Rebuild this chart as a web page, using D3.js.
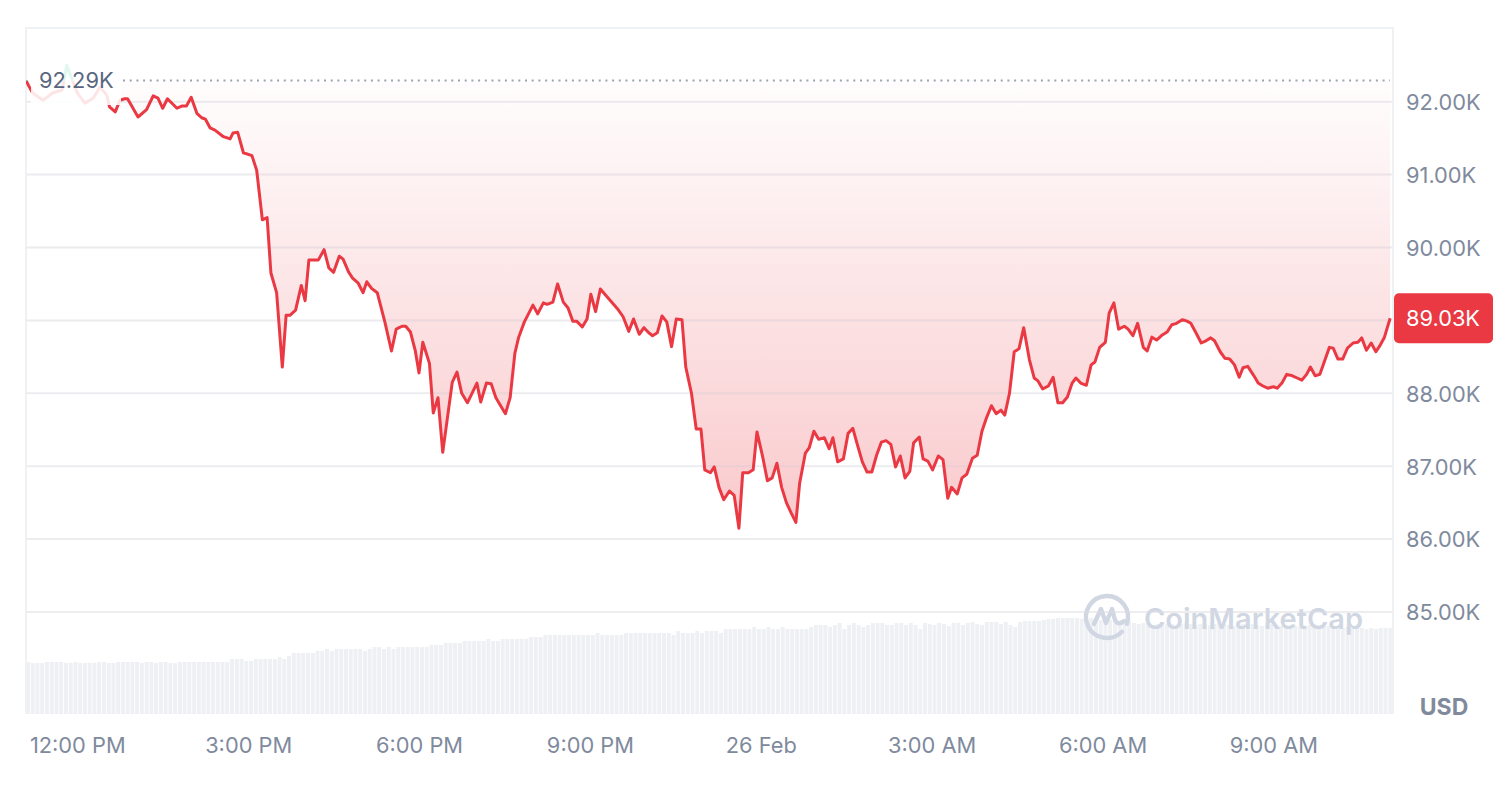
<!DOCTYPE html>
<html><head><meta charset="utf-8">
<script src="https://cdn.jsdelivr.net/npm/d3@7/dist/d3.min.js"></script>
<style>
html,body{margin:0;padding:0;background:#fff;}
svg{display:block;font-family:Inter,"Noto Sans",sans-serif;}
</style></head>
<body><svg id="chart" width="1511" height="796"></svg>
<script>
// ---------- DATA ----------
const startTime = new Date(2025, 1, 25, 11, 6);   // first sample
const spanMinutes = 1440;
const baselinePrice = 92.29;   // K USD (open of period)
const lastPrice = 89.03;

// minutes after start
const minutes = [
  0,4,7,18,28,38,43,54,62,71,
  78,85,88,94,99,104,107,118,127,134,
  139,144,149,159,164,169,174,180,185,189,
  194,199,208,215,218,223,229,238,243,249,
  254,258,264,270,274,278,284,290,294,298,
  308,314,319,324,330,334,340,344,350,355,
  359,364,370,378,385,390,396,400,405,410,
  414,418,425,429,434,439,449,454,459,465,
  475,479,485,490,495,505,510,515,519,525,
  534,539,545,549,555,560,566,571,576,580,
  586,591,595,600,605,615,623,629,635,640,
  646,651,656,660,665,670,675,680,685,691,
  695,701,706,711,715,721,725,730,735,741,
  746,751,755,761,766,770,776,781,786,791,
  796,801,806,811,815,821,825,830,835,841,
  846,850,855,861,866,871,875,881,886,891,
  896,901,906,911,916,921,926,931,935,941,
  945,950,955,961,966,971,975,981,986,991,
  997,1002,1007,1012,1017,1022,1027,1031,1036,1041,
  1046,1051,1057,1062,1066,1071,1077,1082,1087,1092,
  1097,1102,1106,1111,1117,1122,1126,1131,1137,1141,
  1146,1151,1157,1161,1166,1171,1177,1181,1186,1191,
  1197,1202,1207,1212,1218,1223,1227,1232,1238,1243,
  1248,1252,1258,1263,1268,1273,1278,1282,1287,1293,
  1298,1303,1308,1314,1318,1323,1328,1334,1339,1344,
  1349,1353,1358,1363,1367,1373,1377,1382,1387,1392,
  1398,1403,1407,1412,1417,1422,1426,1431,1437
];
// price in thousands USD
const prices = [
  92.29,92.19,92.12,92.02,92.12,92.16,92.50,92.12,91.98,92.05,
  92.20,92.09,91.93,91.86,92.02,92.04,92.04,91.79,91.89,92.08,
  92.05,91.91,92.04,91.91,91.94,91.94,92.06,91.84,91.78,91.76,
  91.64,91.61,91.52,91.49,91.57,91.58,91.30,91.26,91.06,90.38,
  90.41,89.65,89.38,88.36,89.07,89.07,89.14,89.48,89.27,89.83,
  89.83,89.97,89.72,89.66,89.88,89.84,89.66,89.58,89.51,89.38,
  89.53,89.44,89.38,88.98,88.58,88.88,88.92,88.92,88.84,88.59,
  88.28,88.70,88.41,87.73,87.94,87.19,88.15,88.29,88.00,87.87,
  88.14,87.88,88.14,88.13,87.94,87.72,87.94,88.55,88.77,88.98,
  89.21,89.09,89.24,89.22,89.25,89.50,89.25,89.17,88.99,88.99,
  88.91,89.02,89.36,89.12,89.43,89.28,89.16,89.05,88.85,89.02,
  88.81,88.90,88.83,88.79,88.83,89.06,88.98,88.64,89.02,89.01,
  88.36,88.00,87.51,87.51,86.95,86.91,86.99,86.71,86.54,86.66,
  86.60,86.15,86.91,86.91,86.95,87.47,87.13,86.80,86.84,87.04,
  86.71,86.50,86.36,86.23,86.77,87.18,87.25,87.48,87.37,87.39,
  87.24,87.39,87.06,87.10,87.45,87.52,87.33,87.06,86.92,86.92,
  87.15,87.33,87.35,87.30,86.99,87.14,86.84,86.93,87.32,87.40,
  87.10,87.07,86.95,87.14,87.09,86.56,86.71,86.62,86.84,86.89,
  87.11,87.15,87.48,87.67,87.83,87.72,87.77,87.70,88.00,88.57,
  88.61,88.90,88.46,88.21,88.17,88.06,88.10,88.22,87.87,87.87,
  87.95,88.14,88.21,88.14,88.11,88.39,88.43,88.63,88.70,89.10,
  89.24,88.88,88.92,88.88,88.79,88.96,88.63,88.58,88.77,88.73,
  88.80,88.84,88.94,88.96,89.01,88.99,88.96,88.84,88.69,88.72,
  88.76,88.72,88.57,88.48,88.47,88.39,88.22,88.35,88.37,88.25,
  88.14,88.10,88.07,88.09,88.07,88.14,88.26,88.24,88.21,88.18,
  88.26,88.36,88.24,88.26,88.41,88.63,88.62,88.47,88.47,88.62,
  88.69,88.70,88.76,88.59,88.69,88.57,88.65,88.77,89.03
];
// volume bars, one per 5 minutes (relative units)
const volumes = [
  52,51,51,51,52,52,52,52,51,51, 52,51,51,51,51,52,52,51,51,52,
  52,52,52,52,51,52,52,51,52,52, 51,51,52,52,52,52,52,52,52,52,
  52,52,52,
  55,55,55,53,53,55,55,55,55,55, 57,55,58,61,61,61,61,61,63,63,
  65,63,65,65,65,65,65,65,63,65, 67,67,65,67,65,67,67,67,67,67,
  67,67,69,69,69,71,71,71,71,73, 73,
  73,73,73,75,73,73,75,75,75,75, 75,75,77,77,77,79,79,79,79,79,
  79,79,79,79,79,79,81,79,79,79, 79,79,81,81,81,81,81,81,81,81,
  81,81,79,83,81,81,81,83,81,83, 83,83,81,85,85,85,85,85,85,87,
  85,85,87,85,85,87,85,85,85,85, 85,87,89,89,89,87,89,91,85,89,
  91,89,87,89,91,91,91,89,89,91, 91,89,91,89,85,91,
  90,89,91,90,88,91,91,89,91,92, 90,89,92,92,92,90,92,89,87,92,
  93,93,93,93,
  94,95,95,96,96,96,96,96,95,95,96,
  95,94,95,94,94,93,94,93,
  91,90,91,90,89,90,91,90,90,89, 90,91,90,89,90,90,89,90,91,90,
  89,88,89,90,89,90,89,88,89,90, 89,88,89,89,88,87,88,89,88,87,
  88,88,87,
  87,86,87,86,87,86,
  85,86,85,86,86,86
];
const priceTicks = [85, 86, 87, 88, 89, 90, 91, 92];
const timeTickLabels = ["12:00 PM","3:00 PM","6:00 PM","9:00 PM","26 Feb","3:00 AM","6:00 AM","9:00 AM"];
const currencyLabel = "USD";
const watermarkText = "CoinMarketCap";

// ---------- LAYOUT ----------
const L = 26, R = 1393, T = 28, B = 714;
const RED = "#ea3943", GREEN = "#16c784", GRID = "#eff2f5";
const FS = 21.8;
const svg = d3.select("#chart");

const endTime = new Date(startTime.getTime() + spanMinutes * 60000);
const x = d3.scaleTime().domain([startTime, endTime]).range([L, R]);
const y = d3.scaleLinear().domain([84, 93]).range([101.7 + 72.9 * 8, 101.7 - 72.9]);
const vScale = d3.scaleLinear().domain([0, 100]).range([B, B - 100]);

const pts = minutes.map((m, i) => ({ t: new Date(startTime.getTime() + m * 60000), v: prices[i] }));
const yBase = y(baselinePrice);

// defs
const defs = svg.append("defs");
const gradR = defs.append("linearGradient").attr("id", "gradRed")
  .attr("gradientUnits", "userSpaceOnUse").attr("x1", 0).attr("x2", 0)
  .attr("y1", yBase).attr("y2", y(d3.min(prices)));
gradR.append("stop").attr("offset", 0).attr("stop-color", RED).attr("stop-opacity", 0.01);
gradR.append("stop").attr("offset", 1).attr("stop-color", RED).attr("stop-opacity", 0.27);
const gradG = defs.append("linearGradient").attr("id", "gradGreen")
  .attr("gradientUnits", "userSpaceOnUse").attr("x1", 0).attr("x2", 0)
  .attr("y1", yBase).attr("y2", y(d3.max(prices)));
gradG.append("stop").attr("offset", 0).attr("stop-color", GREEN).attr("stop-opacity", 0.02);
gradG.append("stop").attr("offset", 1).attr("stop-color", GREEN).attr("stop-opacity", 0.2);
defs.append("clipPath").attr("id", "clipBelow").append("rect")
  .attr("x", L).attr("y", yBase).attr("width", R - L).attr("height", B - yBase);
defs.append("clipPath").attr("id", "clipAbove").append("rect")
  .attr("x", L).attr("y", T).attr("width", R - L).attr("height", yBase - T);

// volume bars
const barW = x(new Date(startTime.getTime() + 5 * 60000)) - x(startTime);
svg.append("g").selectAll("rect").data(volumes).join("rect")
  .attr("x", (d, i) => x(new Date(startTime.getTime() + i * 5 * 60000)))
  .attr("y", d => vScale(d))
  .attr("width", barW - 0.8)
  .attr("height", d => B - vScale(d))
  .attr("fill", "#eef0f4");

// grid
svg.append("g").selectAll("line").data(priceTicks).join("line")
  .attr("x1", L).attr("x2", R).attr("y1", d => y(d)).attr("y2", d => y(d))
  .attr("stroke", GRID).attr("stroke-width", 2);

// borders
svg.append("path").attr("d", `M${L},${B}V${T}H${R}V${B}`)
  .attr("fill", "none").attr("stroke", GRID).attr("stroke-width", 2);

// watermark
const WM = "#d0d7e3";
const wm = svg.append("g").attr("fill", "none").attr("stroke", WM).attr("stroke-width", 4.4)
  .attr("stroke-linecap", "round").attr("stroke-linejoin", "round");
const cx = 1107, cy = 617, rr = 21;
wm.append("path").attr("d", d3.arc()({ innerRadius: rr, outerRadius: rr, startAngle: 2.35, endAngle: 2 * Math.PI + 1.9 }))
  .attr("transform", `translate(${cx},${cy})`);
wm.append("path").attr("d", `M${cx-13},${cy+7} L${cx-6},${cy-8} L${cx-1},${cy+6} L${cx+5},${cy-8} L${cx+8},${cy+3} Q${cx+11},${cy+9} ${cx+17},${cy+4}`);
svg.append("text").attr("x", 1144).attr("y", 629).attr("font-size", 29).attr("font-weight", 600)
  .attr("fill", WM).text(watermarkText);

// area fills
const area = d3.area().x(d => x(d.t)).y0(yBase).y1(d => y(d.v));
svg.append("path").datum(pts).attr("d", area).attr("fill", "url(#gradRed)").attr("clip-path", "url(#clipBelow)");
svg.append("path").datum(pts).attr("d", area).attr("fill", "url(#gradGreen)").attr("clip-path", "url(#clipAbove)");

// re-draw grid faintly over fill
svg.append("g").selectAll("line").data(priceTicks).join("line")
  .attr("x1", L).attr("x2", R).attr("y1", d => y(d)).attr("y2", d => y(d))
  .attr("stroke", "#e9dfe2").attr("stroke-opacity", 0.35).attr("stroke-width", 1.5);

// lines
const line = d3.line().x(d => x(d.t)).y(d => y(d.v));
svg.append("path").datum(pts).attr("d", line).attr("fill", "none").attr("stroke", RED)
  .attr("stroke-width", 3).attr("stroke-linejoin", "round").attr("clip-path", "url(#clipBelow)");
svg.append("path").datum(pts).attr("d", line).attr("fill", "none").attr("stroke", GREEN)
  .attr("stroke-width", 3).attr("stroke-linejoin", "round").attr("clip-path", "url(#clipAbove)");

// baseline dotted
svg.append("line").attr("x1", 123).attr("x2", R - 3).attr("y1", yBase).attr("y2", yBase)
  .attr("stroke", "#9ba3b1").attr("stroke-width", 2).attr("stroke-dasharray", "2 4.7");

// baseline label box
svg.append("rect").attr("x", 31).attr("y", 62).attr("width", 90).attr("height", 43)
  .attr("fill", "#fff").attr("fill-opacity", 0.87);
svg.append("text").attr("x", 39).attr("y", yBase).attr("dy", "0.36em")
  .attr("font-size", FS).attr("fill", "#58667e").text(d3.format(".2f")(baselinePrice) + "K");

// right axis labels
const yAxis = d3.axisRight(y).tickValues(priceTicks).tickSize(0).tickPadding(0)
  .tickFormat(d => d3.format(".2f")(d) + "K");
const ya = svg.append("g").attr("transform", `translate(${R + 13},0)`).call(yAxis);
ya.select(".domain").remove();
ya.selectAll("text").attr("font-size", FS).attr("fill", "#808a9d").attr("font-family", "Inter,'Noto Sans',sans-serif").attr("dy", "0.36em");

// bottom axis
const tickTimes = d3.timeHour.every(3).range(startTime, endTime);
const xAxis = d3.axisBottom(x).tickValues(tickTimes).tickSize(0).tickPadding(0)
  .tickFormat((d, i) => timeTickLabels[i]);
const xa = svg.append("g").attr("transform", `translate(0,745)`).call(xAxis);
xa.select(".domain").remove();
xa.selectAll("text").attr("font-size", FS).attr("fill", "#808a9d").attr("font-family", "Inter,'Noto Sans',sans-serif").attr("dy", "0.36em");

// USD label
svg.append("text").attr("x", 1444).attr("y", 707).attr("dy", "0.36em").attr("text-anchor", "middle")
  .attr("font-size", 23).attr("font-weight", 700).attr("fill", "#808a9d").text(currencyLabel);

// current price tag
const yl = y(lastPrice);
svg.append("rect").attr("x", R + 1).attr("y", yl - 25).attr("width", 99).attr("height", 50)
  .attr("rx", 5).attr("fill", RED);
svg.append("text").attr("x", R + 50).attr("y", yl).attr("dy", "0.36em").attr("text-anchor", "middle")
  .attr("font-size", FS).attr("fill", "#fff").text(d3.format(".2f")(lastPrice) + "K");
</script></body></html>
